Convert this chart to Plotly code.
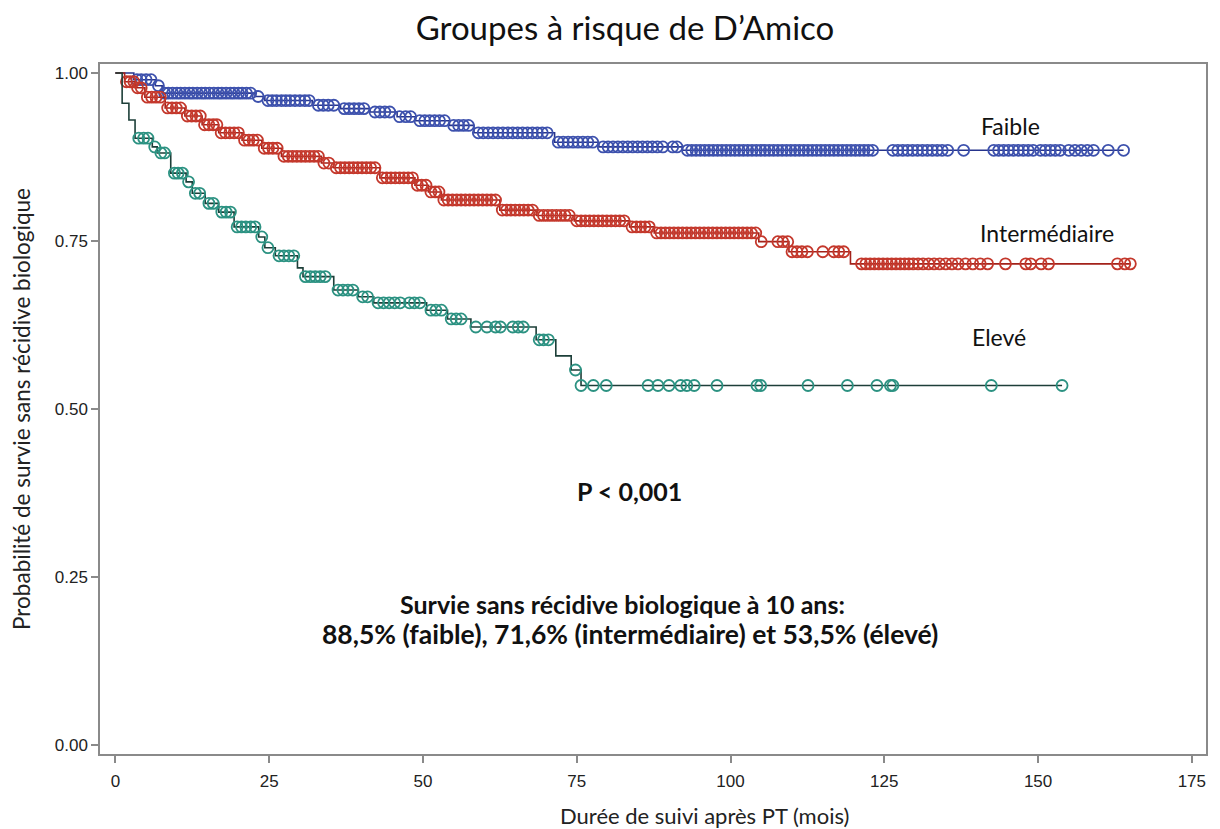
import numpy as np
import plotly.graph_objects as go

# ---------------- data ----------------
# Kaplan-Meier step curves (time in months, survival probability)
faible_t = [0, 3.0, 6.5, 7.6, 22.7, 24.3, 32.0, 36.6, 41.4, 45.8, 48.8, 54.3, 58.3, 71.4, 78.6, 92.2]
faible_s = [1.0, 0.990, 0.981, 0.970, 0.965, 0.959, 0.952, 0.947, 0.942, 0.935, 0.929, 0.922, 0.911, 0.897, 0.890, 0.885]
faible_cens = [3.5, 4.2, 5.0, 5.8, 7.0, 8.0, 8.6, 9.3, 10.0, 10.6, 11.3, 12.0, 12.6, 13.3, 14.0, 14.6,
               15.3, 16.0, 16.7, 17.3, 18.0, 18.7, 19.3, 20.0, 20.6, 21.3, 22.0, 23.2, 24.8, 25.5, 26.2,
               27.0, 27.7, 28.4, 29.2, 30.0, 30.8, 31.5, 33.0, 33.8, 34.6, 35.5, 37.2, 38.0, 38.8, 39.6,
               40.4, 42.2, 43.0, 43.8, 44.6, 46.2, 47.2, 48.0, 49.5, 50.3, 51.1, 51.9, 52.7, 53.5, 55.0,
               55.8, 56.6, 57.4, 59.0, 59.8, 60.6, 61.4, 62.2, 63.0, 63.8, 64.6, 65.4, 66.2, 67.0, 67.8,
               68.6, 69.4, 70.2, 72.0, 72.8, 73.6, 74.4, 75.2, 76.0, 76.8, 77.6, 79.3, 80.1, 80.9, 81.7,
               82.5, 83.3, 84.1, 84.9, 85.7, 86.5, 87.3, 88.1, 89.0, 90.6, 91.3, 93.0, 93.7, 94.4, 95.1,
               95.8, 96.5, 97.2, 97.9, 98.6, 99.3, 100.0, 100.7, 101.4, 102.1, 102.8, 103.5, 104.2, 104.9,
               105.6, 106.3, 107.0, 107.7, 108.4, 109.1, 109.8, 110.5, 111.2, 111.9, 112.6, 113.3, 114.0,
               114.7, 115.4, 116.1, 116.8, 117.5, 118.2, 118.9, 119.6, 120.3, 121.0, 121.7, 122.4, 123.1,
               126.4, 127.2, 128.0, 128.8, 129.6, 130.4, 131.2, 132.0, 132.8, 133.6, 134.4, 135.3, 137.9,
               142.8, 143.6, 144.4, 145.2, 146.0, 146.8, 147.6, 148.4, 149.2, 150.4, 151.2, 152.0, 152.8,
               153.6, 155.0, 156.0, 157.0, 158.0, 159.0, 161.4, 163.9]

inter_t = [0, 1.5, 3.2, 4.8, 8.1, 11.3, 14.1, 16.8, 20.6, 23.8, 27.0, 33.5, 35.5, 43.0, 48.7, 50.9,
           53.0, 62.5, 68.5, 74.6, 83.6, 87.6, 104.6, 109.5, 119.5]
inter_s = [1.0, 0.987, 0.978, 0.964, 0.948, 0.936, 0.923, 0.911, 0.900, 0.888, 0.876, 0.866, 0.859,
           0.844, 0.833, 0.823, 0.811, 0.796, 0.788, 0.780, 0.771, 0.762, 0.749, 0.734, 0.716]
inter_cens = [1.8, 2.4, 3.0, 3.6, 4.2, 5.2, 5.9, 6.6, 7.3, 8.5, 9.2, 9.9, 10.6, 11.7, 12.4, 13.1, 13.8,
              14.5, 15.2, 15.9, 16.5, 17.2, 17.9, 18.6, 19.3, 20.0, 21.0, 21.7, 22.4, 23.1, 24.2, 24.9,
              25.6, 26.3, 27.4, 28.1, 28.8, 29.5, 30.2, 30.9, 31.6, 32.3, 33.0, 33.9, 34.7, 35.9, 36.6,
              37.3, 38.0, 38.7, 39.4, 40.1, 40.8, 41.5, 42.2, 43.4, 44.1, 44.8, 45.5, 46.2, 46.9, 47.6,
              48.3, 49.1, 49.8, 50.5, 51.3, 52.0, 52.6, 53.4, 54.1, 54.8, 55.5, 56.2, 56.9, 57.6, 58.3,
              59.0, 59.7, 60.4, 61.1, 61.8, 62.9, 63.6, 64.3, 65.0, 65.7, 66.4, 67.1, 67.8, 68.9, 69.6,
              70.3, 71.0, 71.7, 72.4, 73.1, 73.8, 75.0, 75.7, 76.4, 77.1, 77.8, 78.5, 79.2, 79.9, 80.6,
              81.3, 82.0, 82.7, 84.0, 84.7, 85.4, 86.1, 86.8, 88.0, 88.7, 89.4, 90.1, 90.8, 91.5, 92.2,
              92.9, 93.6, 94.3, 95.0, 95.7, 96.4, 97.1, 97.8, 98.5, 99.2, 99.9, 100.6, 101.3, 102.0, 102.7,
              103.4, 104.1, 105.0, 107.7, 108.5, 109.3, 110.0, 110.8, 111.6, 112.5, 115.0, 116.8, 117.6,
              118.4, 121.3, 122.0, 122.7, 123.4, 124.1, 124.8, 125.5, 126.2, 126.9, 127.6, 128.3, 129.0,
              129.7, 130.5, 131.3, 132.2, 133.1, 134.0, 135.0, 136.0, 137.0, 138.2, 139.4, 140.6, 141.8,
              144.7, 148.0, 148.8, 150.5, 151.7, 162.9, 164.1, 165.0]

eleve_t = [0, 1.1, 2.2, 3.2, 6.0, 6.8, 9.0, 11.5, 12.5, 14.6, 16.8, 19.3, 23.3, 24.3, 26.0, 29.6, 30.5,
           35.5, 39.5, 42.0, 50.6, 54.0, 57.8, 68.4, 71.6, 74.1, 75.7]
eleve_s = [1.0, 0.955, 0.930, 0.903, 0.890, 0.881, 0.851, 0.838, 0.821, 0.806, 0.793, 0.771, 0.756,
           0.740, 0.728, 0.710, 0.697, 0.677, 0.667, 0.658, 0.647, 0.634, 0.622, 0.603, 0.579, 0.558, 0.535]
eleve_cens = [3.8, 4.6, 5.3, 6.4, 7.4, 8.0, 9.6, 10.2, 10.9, 11.9, 13.0, 13.7, 15.2, 15.9, 17.3, 18.0,
              18.7, 19.8, 20.5, 21.2, 22.0, 22.7, 23.8, 24.8, 26.6, 27.4, 28.2, 29.0, 30.9, 31.7, 32.5,
              33.3, 34.1, 36.2, 37.0, 37.8, 38.6, 40.2, 41.0, 42.7, 43.6, 44.5, 45.4, 46.3, 47.8, 48.6,
              49.5, 51.3, 52.1, 53.0, 54.6, 55.4, 56.2, 58.6, 60.4, 61.8, 62.6, 64.6, 65.5, 66.3, 68.9,
              69.6, 70.4, 74.8, 75.7, 77.7, 79.8, 86.6, 88.2, 90.0, 91.9, 92.9, 94.1, 97.8, 104.3, 104.9,
              112.6, 119.0, 123.8, 126.0, 126.4, 142.4, 153.9]

x_ticks = [0, 25, 50, 75, 100, 125, 150, 175]
y_ticks = [0.0, 0.25, 0.5, 0.75, 1.0]

# ---------------- figure ----------------
def step_lookup(times, surv, cens):
    idx = np.searchsorted(np.array(times), np.array(cens), side="right") - 1
    return [surv[i] for i in idx]

groups = [
    ("Faible", faible_t, faible_s, faible_cens, "#26348c", "#3d51ad"),
    ("Intermédiaire", inter_t, inter_s, inter_cens, "#a3221a", "#c4382c"),
    ("Elevé", eleve_t, eleve_s, eleve_cens, "#1d3f39", "#2c9282"),
]

fig = go.Figure()
for name, t, s, c, lcol, mcol in groups:
    xs = list(t) + [max(c)]
    ys = list(s) + [s[-1]]
    fig.add_trace(go.Scatter(x=xs, y=ys, mode="lines", line=dict(color=lcol, width=1.6, shape="hv"),
                             showlegend=False, hoverinfo="skip"))
    fig.add_trace(go.Scatter(x=c, y=step_lookup(t, s, c), mode="markers",
                             marker=dict(symbol="circle-open", size=11, color=mcol, line=dict(width=1.8, color=mcol)),
                             showlegend=False, name=name))

calibri = "Lato, 'Open Sans', sans-serif"
ann = [
    dict(x=145.5, y=0.921, text="Faible", size=23),
    dict(x=151.5, y=0.762, text="Intermédiaire", size=23),
    dict(x=143.6, y=0.607, text="Elevé", size=23),
    dict(x=83.5, y=0.378, text="<b>P < 0,001</b>", size=25),
    dict(x=82.4, y=0.210, text="<b>Survie sans récidive biologique à 10 ans:</b>", size=25),
    dict(x=83.7, y=0.165, text="<b>88,5% (faible), 71,6% (intermédiaire) et 53,5% (élevé)</b>", size=26.5),
]
for a in ann:
    fig.add_annotation(x=a["x"], y=a["y"], xref="x", yref="y", text=a["text"], showarrow=False,
                       font=dict(family=calibri, size=a["size"], color="#111111"))

# x-axis title (offset to the right of the plot centre as in the original)
fig.add_annotation(x=(704 - 98) / 1108, y=-(815 - 754) / 690, xref="paper", yref="paper",
                   text="Durée de suivi après PT (mois)", showarrow=False, xanchor="center", yanchor="middle",
                   font=dict(family=calibri, size=22, color="#222222"))

axis_common = dict(showline=True, mirror=True, linecolor="#8a8a8a", linewidth=1.5, ticks="outside",
                   ticklen=7, tickcolor="#8a8a8a", tickwidth=1.5, showgrid=False, zeroline=False,
                   tickfont=dict(family="Liberation Sans, Arial, sans-serif", size=17, color="#222222"))

fig.update_layout(
    width=1220, height=829,
    margin=dict(l=90, r=22, t=56, b=83),
    paper_bgcolor="white", plot_bgcolor="white",
    title=dict(text="Groupes à risque de D’Amico", xref="container", yref="container",
               x=617/1220, y=1 - 20/829, xanchor="center", yanchor="middle",
               font=dict(family=calibri, size=33, color="#111111")),
    xaxis=dict(range=[-2.5, 177.3], tickvals=x_ticks, ticktext=[str(v) for v in x_ticks],
               ticklabelstandoff=4, **axis_common),
    yaxis=dict(range=[-0.0134, 1.0134], tickvals=y_ticks, ticktext=[f"{v:.2f}" for v in y_ticks],
               title=dict(text="Probabilité de survie sans récidive biologique",
                          font=dict(family=calibri, size=22.5, color="#222222"), standoff=19),
               **axis_common),
)

fig.write_html("out.html")
